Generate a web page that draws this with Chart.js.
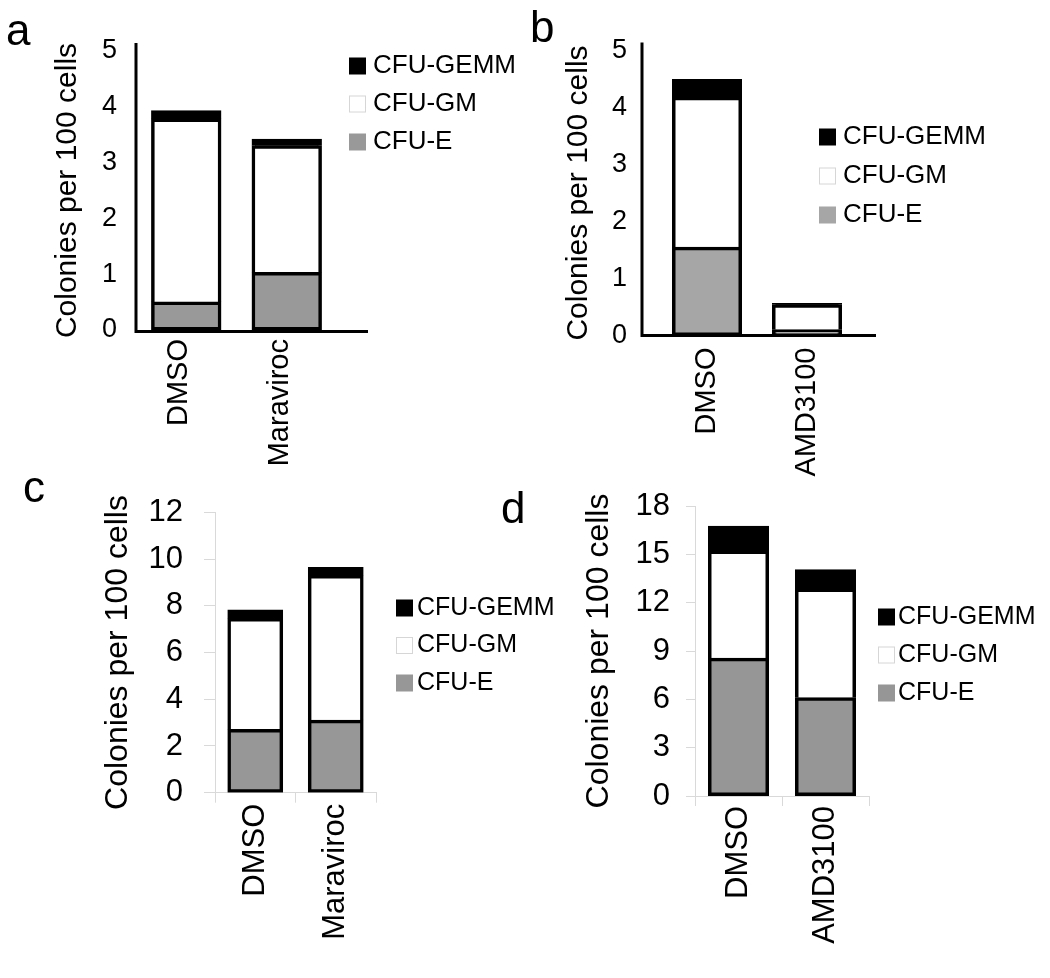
<!DOCTYPE html>
<html>
<head>
<meta charset="utf-8">
<script src="https://cdn.jsdelivr.net/npm/chart.js@4.4.1/dist/chart.umd.min.js"></script>
<style>
  body { margin: 0; background: #fff; }
  #wrap { position: relative; width: 1050px; height: 978px; overflow: hidden; }
  canvas { position: absolute; }
  .tag { position: absolute; font: 44px/1 "Liberation Sans", Arial, sans-serif; color: #000; }
</style>
</head>
<body>
<div id="wrap">
  <canvas id="chartC" width="565" height="518" style="left:0;top:460px"></canvas>
  <canvas id="chartD" width="485" height="518" style="left:565px;top:460px"></canvas>
  <canvas id="chartA" width="520" height="500" style="left:0;top:0"></canvas>
  <canvas id="chartB" width="530" height="500" style="left:520px;top:0"></canvas>
  <div class="tag" style="left:6px;top:8px">a</div>
  <div class="tag" style="left:530px;top:5px">b</div>
  <div class="tag" style="left:23px;top:465px">c</div>
  <div class="tag" style="left:501px;top:486px">d</div>
</div>
<script>
// series names (bottom to top of each stack)
const seriesNames = ["CFU-E", "CFU-GM", "CFU-GEMM"];
const yTitle = "Colonies per 100 cells";

// panel a
const catsA = ["DMSO", "Maraviroc"];
const cfuE_A = [0.5, 1.03];
const cfuGM_A = [3.28, 2.27];
const cfuGEMM_A = [0.15, 0.12];
const ticksA = [0, 1, 2, 3, 4, 5];

// panel b
const catsB = ["DMSO", "AMD3100"];
const cfuE_B = [1.55, 0.1];
const cfuGM_B = [2.63, 0.44];
const cfuGEMM_B = [0.31, 0.02];
const ticksB = [0, 1, 2, 3, 4, 5];

// panel c
const catsC = ["DMSO", "Maraviroc"];
const cfuE_C = [2.7, 3.1];
const cfuGM_C = [4.75, 6.2];
const cfuGEMM_C = [0.37, 0.34];
const ticksC = [0, 2, 4, 6, 8, 10, 12];

// panel d
const catsD = ["DMSO", "AMD3100"];
const cfuE_D = [8.55, 6.1];
const cfuGM_D = [6.65, 6.75];
const cfuGEMM_D = [1.55, 1.2];
const ticksD = [0, 3, 6, 9, 12, 15, 18];

const FONT = '"Liberation Sans", Arial, sans-serif';

// legend drawn at the side of the plot, top entry = top of stack
const sideLegend = {
  id: "sideLegend",
  afterDraw(chart, args, opts) {
    const { ctx } = chart;
    const sets = chart.data.datasets.slice().reverse();
    ctx.save();
    ctx.font = `${opts.size}px ${FONT}`;
    ctx.textBaseline = "middle";
    ctx.textAlign = "left";
    sets.forEach((ds, i) => {
      const y = opts.y + i * opts.gap;
      ctx.fillStyle = ds.backgroundColor;
      ctx.fillRect(opts.x, y - opts.box / 2, opts.box, opts.box);
      if (ds.backgroundColor === "#ffffff") {
        ctx.strokeStyle = "#d6d6d6";
        ctx.lineWidth = 1;
        ctx.strokeRect(opts.x + 0.5, y - opts.box / 2 + 0.5, opts.box - 1, opts.box - 1);
      }
      ctx.fillStyle = "#000";
      ctx.fillText(ds.label, opts.x + opts.box + opts.textGap, y);
    });
    ctx.restore();
  },
};

// thick black axes (panels a and b)
const blackAxes = {
  id: "blackAxes",
  afterDatasetsDraw(chart, args, opts) {
    if (!opts.on) return;
    const { ctx, chartArea } = chart;
    const x0 = chartArea.left - opts.gap;
    const yb = chartArea.bottom + opts.drop;
    ctx.save();
    ctx.strokeStyle = "#000";
    ctx.lineWidth = 3;
    ctx.beginPath();
    ctx.moveTo(x0, chartArea.top - opts.over);
    ctx.lineTo(x0, yb);
    ctx.lineTo(chartArea.right + opts.extend, yb);
    ctx.stroke();
    ctx.restore();
  },
};

function makeSets(e, gm, gemm, gray, bw) {
  const side = { top: bw, left: bw, right: bw, bottom: 0 };
  const common = { borderColor: "#000", borderSkipped: false, inflateAmount: 0.5 };
  return [
    { label: seriesNames[0], data: e, backgroundColor: gray, borderWidth: { top: bw, left: bw, right: bw, bottom: bw }, ...common },
    { label: seriesNames[1], data: gm, backgroundColor: "#ffffff", borderWidth: side, ...common },
    { label: seriesNames[2], data: gemm, backgroundColor: "#000000", borderWidth: side, ...common },
  ];
}

function makePanel(id, cats, sets, ticks, p) {
  const light = p.light;
  return new Chart(document.getElementById(id), {
    type: "bar",
    data: { labels: cats, datasets: sets },
    plugins: [sideLegend, blackAxes],
    options: {
      responsive: false,
      animation: false,
      devicePixelRatio: 1,
      layout: { padding: { left: 0, top: p.top, right: p.right, bottom: 0 } },
      datasets: { bar: { barPercentage: p.barPct, categoryPercentage: 1 } },
      scales: {
        x: {
          stacked: true,
          grid: light
            ? { display: true, drawOnChartArea: false, drawTicks: true, tickLength: 10, color: "#d9d9d9", offset: true }
            : { display: false, drawTicks: false },
          border: light ? { display: true, color: "#d9d9d9", width: 1 } : { display: false },
          ticks: {
            color: "#000",
            font: { family: FONT, size: p.xFont },
            minRotation: 90,
            maxRotation: 90,
            autoSkip: false,
            padding: p.xPad,
            labelOffset: p.xShift,
          },
          afterFit(s) { s.height = p.xH; },
        },
        y: {
          stacked: true,
          min: ticks[0],
          max: ticks[ticks.length - 1],
          grid: light
            ? { display: true, drawOnChartArea: false, drawTicks: true, tickLength: p.tickLen, color: "#d9d9d9" }
            : { display: false, drawTicks: false },
          border: light ? { display: true, color: "#d9d9d9", width: 1 } : { display: false },
          ticks: {
            stepSize: ticks[1] - ticks[0],
            color: "#000",
            font: { family: FONT, size: p.yFont },
            padding: p.yPad,
          },
          title: {
            display: true,
            text: yTitle,
            color: "#000",
            font: { family: FONT, size: p.titleFont },
            padding: { top: p.titlePad, bottom: 0 },
          },
          afterFit(s) { s.width = p.yW; },
        },
      },
      plugins: {
        legend: { display: false },
        tooltip: { enabled: false },
        sideLegend: p.legend,
        blackAxes: p.axes,
      },
    },
  });
}

makePanel("chartA", catsA, makeSets(cfuE_A, cfuGM_A, cfuGEMM_A, "#999999", 3.5), ticksA, {
  top: 51, right: 183, yW: 136, xH: 170, barPct: 0.69,
  xFont: 29, xPad: 9, xShift: -7, yFont: 27, yPad: 19, titleFont: 30, titlePad: 50,
  legend: { x: 349, y: 66, gap: 38, box: 17, textGap: 7, size: 26 },
  axes: { on: true, gap: 0, over: 8, extend: 31, drop: 1.5 },
});

makePanel("chartB", catsB, makeSets(cfuE_B, cfuGM_B, cfuGEMM_B, "#a6a6a6", 3.5), ticksB, {
  top: 50.5, right: 193, yW: 137, xH: 164.5, barPct: 0.69,
  xFont: 29, xPad: 12, xShift: 0, yFont: 27, yPad: 30, titleFont: 30, titlePad: 40.5,
  legend: { x: 299, y: 137, gap: 39, box: 17, textGap: 7, size: 26 },
  axes: { on: true, gap: 15, over: 8, extend: 19, drop: 0 },
});

makePanel("chartC", catsC, makeSets(cfuE_C, cfuGM_C, cfuGEMM_C, "#979797", 3.5), ticksC, {
  light: true, top: 52.3, right: 189, yW: 215, xH: 185.3, barPct: 0.68, tickLen: 11,
  xFont: 31, xPad: 1, xShift: 0, yFont: 31, yPad: 21, titleFont: 32, titlePad: 98.8,
  legend: { x: 396, y: 148, gap: 37.5, box: 17, textGap: 4, size: 25 },
  axes: { on: false },
});

makePanel("chartD", catsD, makeSets(cfuE_D, cfuGM_D, cfuGEMM_D, "#969696", 3.5), ticksD, {
  light: true, top: 46, right: 181, yW: 130, xH: 182, barPct: 0.69, tickLen: 9,
  xFont: 31, xPad: 0, xShift: 0, yFont: 31, yPad: 16, titleFont: 32, titlePad: 15.3,
  legend: { x: 313, y: 157, gap: 38, box: 17, textGap: 3, size: 25 },
  axes: { on: false },
});
</script>
</body>
</html>
